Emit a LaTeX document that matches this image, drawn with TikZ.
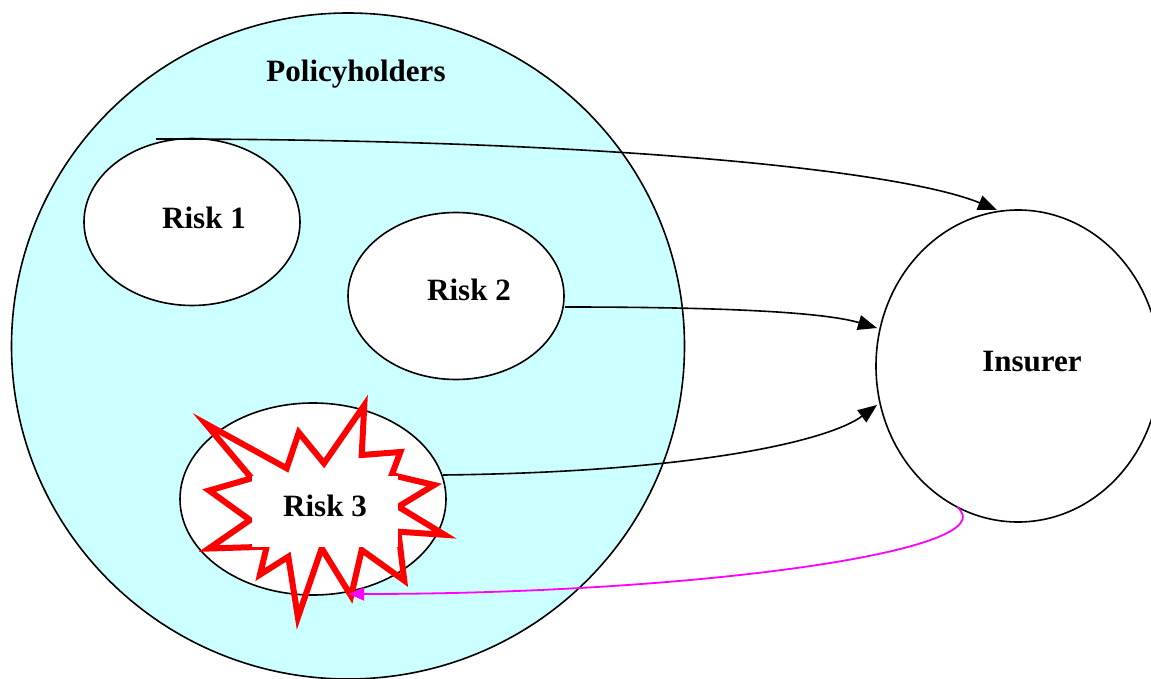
\documentclass[tikz,border=0pt]{standalone}
\usepackage{fontspec}
\setmainfont{Liberation Serif}
\usetikzlibrary{shapes.geometric,arrows.meta}
\definecolor{polfill}{RGB}{204,255,255}
\definecolor{lossmag}{RGB}{255,0,255}
\begin{document}
\begin{tikzpicture}[x=1pt,y=-1pt,
  lbl/.style={font=\fontsize{31}{37}\selectfont\bfseries, inner sep=0pt},
  oval/.style={ellipse, draw=black, line width=1.6pt, fill=white, inner sep=0pt},
  flow/.style={draw=black, line width=1.6pt, -{Triangle[length=19pt,width=15pt]}},
  claim/.style={draw=lossmag, line width=1.8pt, -{Triangle[length=15pt,width=13pt]}},
  burst/.style={draw=red, line width=6pt, line join=miter, miter limit=20}]
\useasboundingbox (0,0) rectangle (1151,679);
\clip (0,0) rectangle (1151,679);
% big circle
\node[oval, fill=polfill, minimum width=673pt, minimum height=666pt] (pol) at (348,346) {};
\node[lbl] (poltxt) at (356,74) {Policyholders};
% risks
\node[oval, minimum width=216pt, minimum height=167pt] (r1) at (192,222) {};
\node[oval, minimum width=216pt, minimum height=167pt] (r2) at (456,296) {};
\node[oval, minimum width=266pt, minimum height=192pt] (r3) at (313,499) {};
% insurer
\node[oval, minimum width=284pt, minimum height=312pt] (ins) at (1018,366) {};
% starburst
\draw[burst] (205.4,423.5) -- (286.7,468.3) -- (298.8,432.5) -- (324,463.3) -- (364.3,405.2) -- (361.7,455)
  -- (400.4,452) -- (391.7,475) -- (434.1,485) -- (398.3,506.7) -- (444.6,534.8) -- (398.3,531.7)
  -- (404.3,580.6) -- (361.7,550) -- (351.1,595.9) -- (321.7,548.3) -- (297.9,617.4) -- (288.3,556.7)
  -- (260,574.6) -- (266.7,546.7) -- (208.8,548.5) -- (250,520) -- (209.1,490.5) -- (251.7,478.3) -- cycle;
\fill[white] (252,476) rectangle (398,547);
% labels
\node[lbl] (r1txt) at (204,218) {Risk 1};
\node[lbl] (r2txt) at (469,290) {Risk 2};
\node[lbl] (r3txt) at (325,506) {Risk 3};
\node[lbl] (instxt) at (1032,362) {Insurer};
% connector end points
\coordinate (a1s) at (156,139);
\coordinate (a1e) at (997,210);
\coordinate (a2s) at (565,307);
\coordinate (a2e) at (877,328);
\coordinate (a3s) at (443,475);
\coordinate (a3e) at (877,405);
\coordinate (a4s) at (957,507);
\coordinate (a4e) at (349,594);
% connectors
\draw[flow] (a1s) .. controls (600,139) and (900,170) .. (a1e);
\draw[flow] (a2s) .. controls (750,307) and (830,314) .. (a2e);
\draw[flow] (a3s) .. controls (700,472) and (830,440) .. (a3e);
\draw[claim] (a4s) .. controls (1010,550) and (700,594) .. (a4e);
\end{tikzpicture}
\end{document}
